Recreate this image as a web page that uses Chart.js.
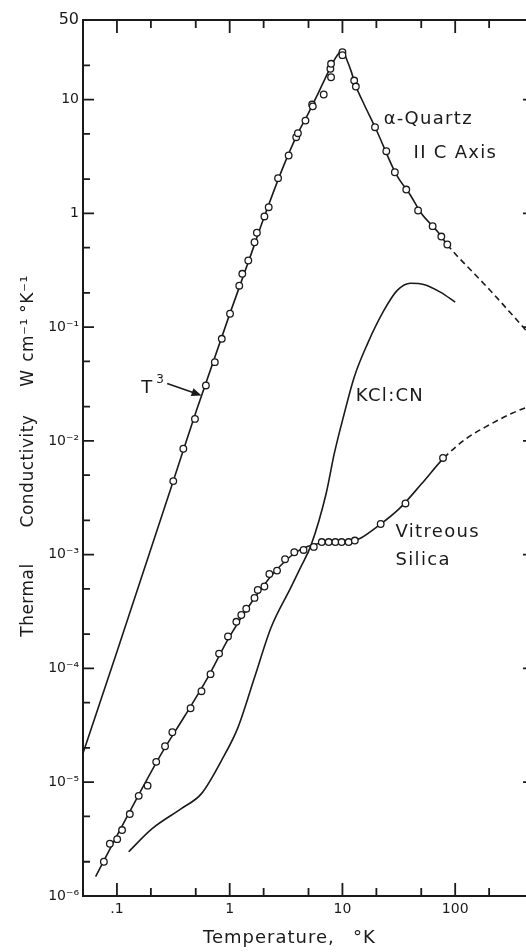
<!DOCTYPE html>
<html><head><meta charset="utf-8">
<script src="https://cdn.jsdelivr.net/npm/chart.js@4.4.1/dist/chart.umd.min.js"></script>
<style>
html,body{margin:0;padding:0;background:#fff;overflow:hidden;width:526px;height:952px}
#wrap{position:absolute;left:0;top:0;width:545px;height:952px}
</style>
</head><body><div id="wrap"><canvas id="c" width="545" height="952"></canvas></div>
<script>
// ---- data ----
const quartzPtT = [0.316,0.388,0.492,0.615,0.738,0.851,1.007,1.216,1.294,1.462,1.660,1.742,2.032,2.218,2.685,3.334,3.890,4.027,4.699,5.383,5.458,6.823,7.816,7.925,7.925,10.0,10.0,12.71,13.15,19.45,24.49,29.17,36.81,46.88,63.10,75.34,85.11];
const quartzPtK = [0.00443,0.00853,0.0156,0.0307,0.0492,0.0789,0.131,0.231,0.294,0.385,0.557,0.675,0.938,1.132,2.037,3.221,4.667,5.058,6.531,9.036,8.71,11.07,18.62,20.61,15.70,26.06,24.55,14.69,13.00,5.715,3.516,2.296,1.618,1.059,0.771,0.625,0.532];

const quartzCurveT = [0.05,0.1,0.3,0.5,1,1.5,2,3,4,5,6,7,8,9,10,11,12,13,15,20,30,40,50,70,85,150,200,300,500];
const quartzCurveK = [1.8e-5,1.4e-4,3.8e-3,0.0178,0.13,0.40,0.90,2.6,5.0,7.6,11.0,15.2,20,24.5,27,22,17.5,13.5,9.8,5.4,2.2,1.45,1.0,0.69,0.53,0.29,0.215,0.138,0.078];

const silicaPtT = [0.0766,0.0865,0.1005,0.111,0.130,0.156,0.187,0.223,0.267,0.310,0.450,0.562,0.676,0.805,0.966,1.146,1.268,1.403,1.660,1.774,2.032,2.249,2.630,3.097,3.741,4.52,5.57,6.56,7.55,8.65,9.84,11.35,12.88,21.83,36.22,77.98];
const silicaPtK = [2.0e-6,2.88e-6,3.16e-6,3.80e-6,5.25e-6,7.59e-6,9.33e-6,1.51e-5,2.07e-5,2.75e-5,4.47e-5,6.31e-5,8.91e-5,1.35e-4,1.91e-4,2.57e-4,2.95e-4,3.35e-4,4.17e-4,4.90e-4,5.25e-4,6.76e-4,7.24e-4,9.12e-4,1.05e-3,1.10e-3,1.17e-3,1.29e-3,1.29e-3,1.29e-3,1.29e-3,1.29e-3,1.33e-3,1.86e-3,2.82e-3,7.08e-3];

const silicaCurveT = [0.0647,0.1,0.158,0.251,0.398,0.631,1.0,1.585,2.512,3.981,6.31,10,14.1,20,31.6,50.1,79.4,126,200,316,501];
const silicaCurveK = [1.48e-6,3.39e-6,7.94e-6,1.82e-5,3.80e-5,8.13e-5,1.91e-4,3.89e-4,7.08e-4,1.07e-3,1.26e-3,1.30e-3,1.38e-3,1.74e-3,2.51e-3,4.17e-3,7.08e-3,0.0105,0.0138,0.0174,0.0209];

const kclT = [0.127,0.204,0.375,0.562,0.845,1.183,1.660,2.328,3.50,4.31,5.25,7.16,8.47,10.38,12.71,16.67,23.33,30.62,40.18,52.6,73.8,100];
const kclK = [2.45e-6,3.89e-6,5.89e-6,7.94e-6,1.55e-5,3.02e-5,8.32e-5,2.29e-4,5.19e-4,7.94e-4,1.20e-3,3.43e-3,7.76e-3,0.0174,0.0363,0.0713,0.140,0.210,0.243,0.237,0.203,0.166];

const xTicks = [0.1,1,10,100];
const xTickLabels = ['.1','1','10','100'];
const xMinor = [0.2,0.5,2,5,20,50,200];
const yTicks = [50,10,1,0.1,0.01,1e-3,1e-4,1e-5,1e-6];
const yTickLabels = ['50','10','1','10\u207B\u00B9','10\u207B\u00B2','10\u207B\u00B3','10\u207B\u2074','10\u207B\u2075','10\u207B\u2076'];
const yMinor = [20,5,2,0.5,0.2,0.05,0.02,5e-3,2e-3,5e-4,2e-4,5e-5,2e-5,5e-6,2e-6];

// ---- styling ----
const INK = '#1a1a1a';
const FONT = 'DejaVu Sans';
const pts = (T, K) => T.map((t, i) => ({x: t, y: K[i]}));
const dashAfter = lim => ({borderDash: c => c.p0.parsed.x >= lim ? [6, 4] : undefined});

const labels = [
  {text: '\u03B1-Quartz', x: 23.2, y: 6.15},
  {text: 'II C Axis', x: 42.7, y: 3.09},
  {text: 'KCl:CN', x: 13.15, y: 0.0226},
  {text: 'Vitreous', x: 29.6, y: 1.42e-3},
  {text: 'Silica', x: 29.6, y: 8.03e-4},
];
const t3Label = {x: 0.168, y: 0.0266};
const arrow = {from: {x: 0.279, y: 0.0319}, to: {x: 0.563, y: 0.0251}};
// y-title pieces: text and centre offset (px) from the plot's vertical middle
const yTitle = [
  {text: 'Thermal', dy: 142},
  {text: 'Conductivity', dy: 13},
  {text: 'W', dy: -80},
  {text: 'cm\u207B\u00B9', dy: -118},
  {text: '\u00B0K\u207B\u00B9', dy: -164},
];

const decor = {
  id: 'decor',
  afterDraw(chart) {
    const ctx = chart.ctx, a = chart.chartArea;
    const xs = chart.scales.x, ys = chart.scales.y;
    ctx.save();
    ctx.strokeStyle = INK; ctx.fillStyle = INK;
    // frame
    ctx.lineWidth = 2;
    ctx.strokeRect(a.left, a.top, a.right - a.left, a.bottom - a.top);
    // ticks
    ctx.lineWidth = 1.8;
    const xt = (v, len) => {
      const p = xs.getPixelForValue(v);
      ctx.beginPath();
      ctx.moveTo(p, a.bottom); ctx.lineTo(p, a.bottom - len);
      ctx.moveTo(p, a.top); ctx.lineTo(p, a.top + len);
      ctx.stroke();
    };
    const yt = (v, len) => {
      const p = ys.getPixelForValue(v);
      ctx.beginPath();
      ctx.moveTo(a.left, p); ctx.lineTo(a.left + len, p);
      ctx.moveTo(a.right, p); ctx.lineTo(a.right - len, p);
      ctx.stroke();
    };
    xTicks.forEach(v => xt(v, 13));
    xMinor.forEach(v => xt(v, 8));
    yTicks.slice(1, -1).forEach(v => yt(v, 11));
    yMinor.forEach(v => yt(v, 7));
    // labels
    ctx.textBaseline = 'alphabetic'; ctx.textAlign = 'left';
    ctx.font = '18px "' + FONT + '"';
    ctx.letterSpacing = '1.3px';
    labels.forEach(l => {
      ctx.fillText(l.text, xs.getPixelForValue(l.x), ys.getPixelForValue(l.y));
    });
    ctx.letterSpacing = '0px';
    // T^3
    const tx = xs.getPixelForValue(t3Label.x), ty = ys.getPixelForValue(t3Label.y);
    ctx.font = '18px "' + FONT + '"';
    ctx.fillText('T', tx - 1, ty);
    ctx.font = '12px "' + FONT + '"';
    ctx.fillText('3', tx + 14, ty - 10);
    // arrow
    const x0 = xs.getPixelForValue(arrow.from.x), y0 = ys.getPixelForValue(arrow.from.y);
    const x1 = xs.getPixelForValue(arrow.to.x), y1 = ys.getPixelForValue(arrow.to.y);
    const ang = Math.atan2(y1 - y0, x1 - x0);
    ctx.lineWidth = 1.6;
    ctx.beginPath(); ctx.moveTo(x0, y0); ctx.lineTo(x1 - 6 * Math.cos(ang), y1 - 6 * Math.sin(ang)); ctx.stroke();
    ctx.beginPath();
    ctx.moveTo(x1, y1);
    ctx.lineTo(x1 - 10 * Math.cos(ang) + 4 * Math.sin(ang), y1 - 10 * Math.sin(ang) - 4 * Math.cos(ang));
    ctx.lineTo(x1 - 10 * Math.cos(ang) - 4 * Math.sin(ang), y1 - 10 * Math.sin(ang) + 4 * Math.cos(ang));
    ctx.closePath(); ctx.fill();
    // x title
    ctx.font = '18px "' + FONT + '"';
    ctx.letterSpacing = '1px';
    ctx.textAlign = 'left';
    ctx.fillText('Temperature,', 203, 943);
    ctx.fillText('\u00B0K', 353, 943);
    // y title
    const mid = (a.top + a.bottom) / 2;
    ctx.font = '17px "' + FONT + '"';
    ctx.letterSpacing = '0.5px';
    ctx.textAlign = 'center';
    yTitle.forEach(p => {
      ctx.save();
      ctx.translate(33, mid + p.dy);
      ctx.rotate(-Math.PI / 2);
      ctx.fillText(p.text, 0, 0);
      ctx.restore();
    });
    ctx.letterSpacing = '0px';
    ctx.restore();
  }
};

new Chart(document.getElementById('c'), {
  type: 'line',
  data: {
    datasets: [
      {label: '\u03B1-Quartz data', data: pts(quartzPtT, quartzPtK), showLine: false,
       pointRadius: 3.3, pointBorderWidth: 1.3, pointBackgroundColor: '#fff', pointBorderColor: INK, order: 0},
      {label: 'Vitreous Silica data', data: pts(silicaPtT, silicaPtK), showLine: false,
       pointRadius: 3.3, pointBorderWidth: 1.3, pointBackgroundColor: '#fff', pointBorderColor: INK, order: 0},
      {label: '\u03B1-Quartz', data: pts(quartzCurveT, quartzCurveK), borderColor: INK, borderWidth: 1.6,
       pointRadius: 0, cubicInterpolationMode: 'monotone', segment: dashAfter(85), order: 1},
      {label: 'Vitreous Silica', data: pts(silicaCurveT, silicaCurveK), borderColor: INK, borderWidth: 1.6,
       pointRadius: 0, cubicInterpolationMode: 'monotone', segment: dashAfter(78), order: 1},
      {label: 'KCl:CN', data: pts(kclT, kclK), borderColor: INK, borderWidth: 1.6,
       pointRadius: 0, cubicInterpolationMode: 'monotone', order: 1},
    ]
  },
  options: {
    responsive: false, animation: false, devicePixelRatio: 1,
    layout: {padding: {top: 20, right: 11, left: 0, bottom: 0}},
    plugins: {legend: {display: false}, tooltip: {enabled: false}},
    scales: {
      x: {
        type: 'logarithmic', min: 0.05, max: 500,
        grid: {display: false, drawTicks: false}, border: {display: false},
        afterBuildTicks: s => { s.ticks = xTicks.map(v => ({value: v})); },
        afterFit: s => { s.height = 56; },
        ticks: {padding: 5, color: INK, autoSkip: false, maxRotation: 0,
                font: {family: FONT, size: 14}, callback: (v, i) => xTickLabels[i]}
      },
      y: {
        type: 'logarithmic', min: 1e-6, max: 50,
        grid: {display: false, drawTicks: false}, border: {display: false},
        afterBuildTicks: s => { s.ticks = yTicks.map(v => ({value: v})); },
        afterFit: s => { s.width = 83; },
        ticks: {padding: 4, color: INK, autoSkip: false,
                font: c => ({family: FONT, size: c.index === 0 ? 16 : 14}),
                callback: (v, i) => yTickLabels[i]}
      }
    }
  },
  plugins: [decor]
});
</script>
</body></html>
